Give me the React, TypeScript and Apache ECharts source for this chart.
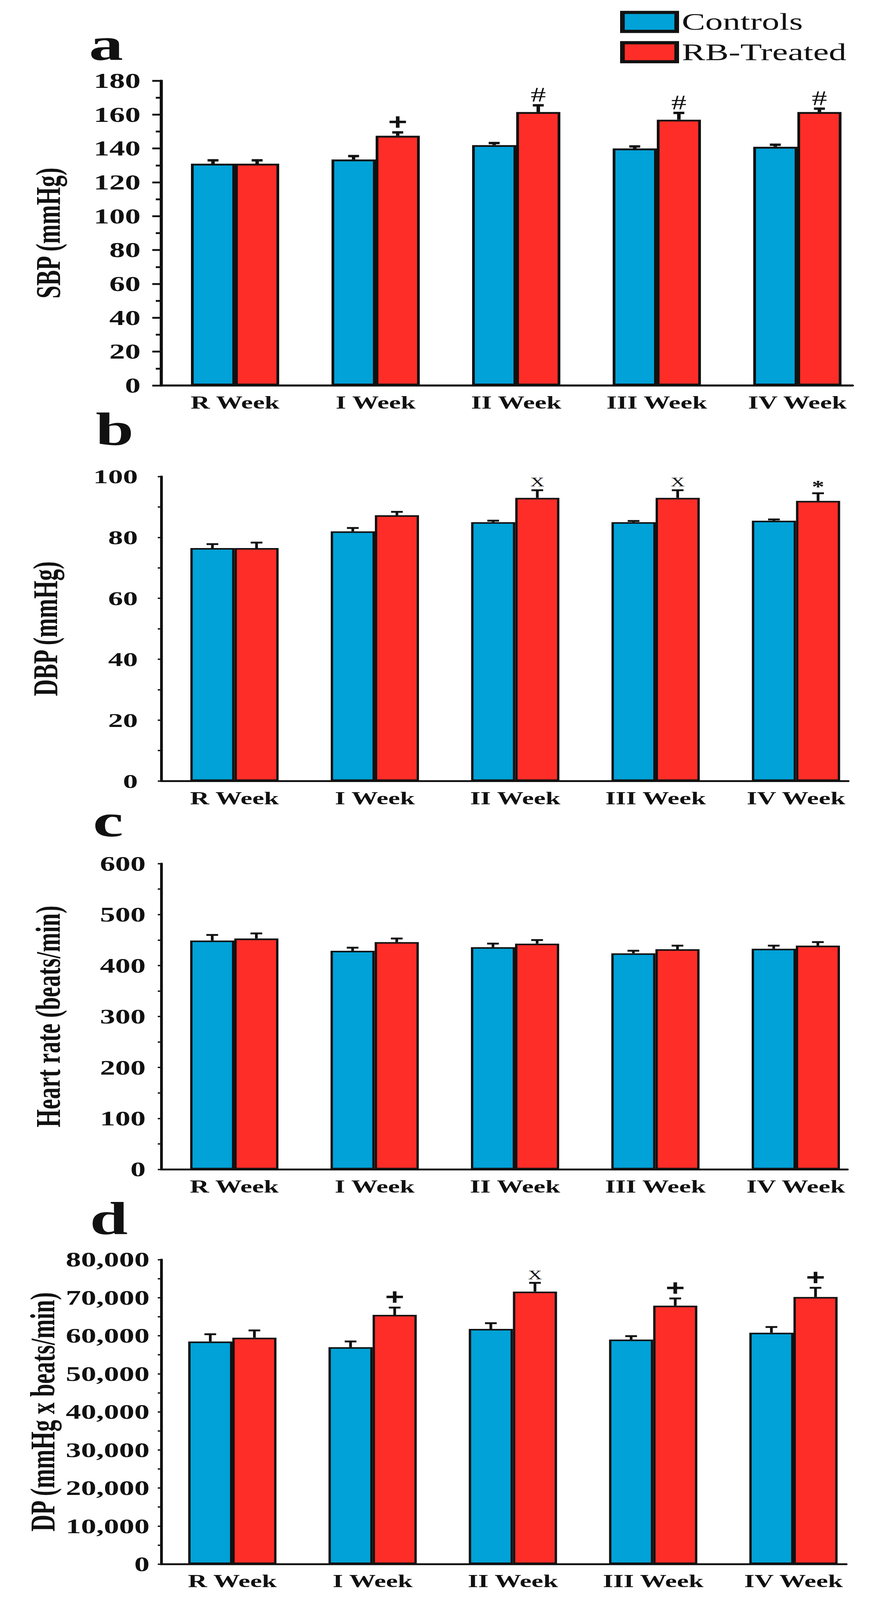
import React, { useEffect, useRef } from 'react';
import * as echarts from 'echarts';

// ---------- data ----------
const categories = ['R Week', 'I Week', 'II Week', 'III Week', 'IV Week'];
const legendNames = ['Controls', 'RB-Treated'];

const sbpControls = [131, 133.5, 142, 140, 141];
const sbpControlsErr = [2, 2, 1.2, 1.2, 1.2];
const sbpTreated = [131, 147.5, 161.5, 157, 161.5];
const sbpTreatedErr = [2, 2, 4, 4, 2];
const sbpMarks = ['', '+', '#', '#', '#'];

const dbpControls = [76.5, 82, 85, 85, 85.5];
const dbpControlsErr = [1.3, 1.1, 0.5, 0.4, 0.4];
const dbpTreated = [76.5, 87.3, 93, 93, 92];
const dbpTreatedErr = [1.8, 1.1, 2.5, 2.5, 2.5];
const dbpMarks = ['', '', 'X', 'X', '*'];

const hrControls = [449, 429, 436, 424, 433];
const hrControlsErr = [11, 6, 7, 5, 6];
const hrTreated = [453, 446, 443, 432, 439];
const hrTreatedErr = [10, 7, 7, 7, 7];
const hrMarks = ['', '', '', '', ''];

const dpControls = [58500, 57000, 61800, 59000, 60800];
const dpControlsErr = [1900, 1500, 1500, 900, 1500];
const dpTreated = [59500, 65500, 71600, 67900, 70200];
const dpTreatedErr = [1900, 1900, 2300, 1900, 2400];
const dpMarks = ['', '+', 'X', '+', '+'];

const yMaxes = [180, 100, 600, 80000];
const yIntervals = [20, 20, 100, 10000];
const yNames = ['SBP (mmHg)', 'DBP (mmHg)', 'Heart rate (beats/min)', 'DP (mmHg x beats/min)'];
const panelLetters = ['a', 'b', 'c', 'd'];

// ---------- styling / layout ----------
const INK = '#111111';
const BLUE = '#00A2D8';
const RED = '#FF2D28';
const FONT = '"Liberation Serif", "Times New Roman", serif';
const SANS = '"Liberation Sans", Arial, sans-serif';
const BAR_W = 113;
const FIG_W = 2228;
const FIG_H = 6064;

const layouts = [
  { top: 306, height: 1155, end: 2183, c0: 602, step: 360, axisW: 8, border: 7, tickLen: 23, minorLen: 14, tickW: 7, labelSize: 80, labelMargin: 53, nameGap: 246, letterY: 168, letterX: 228, capW: 28, capT: 9 },
  { top: 1806, height: 1154, end: 2172, c0: 600.5, step: 359.5, axisW: 7, border: 6, tickLen: 9, minorLen: 9, tickW: 5, labelSize: 76, labelMargin: 60, nameGap: 253, letterY: 1625, letterX: 245, capW: 30, capT: 7 },
  { top: 3273, height: 1159, end: 2170, c0: 600, step: 359.5, axisW: 7, border: 6, tickLen: 9, minorLen: 9, tickW: 5, labelSize: 78, labelMargin: 40, nameGap: 246, letterY: 3110, letterX: 238, capW: 30, capT: 7 },
  { top: 4774, height: 1154, end: 2167, c0: 595, step: 359.25, axisW: 7, border: 6, tickLen: 9, minorLen: 9, tickW: 5, labelSize: 78, labelMargin: 30, nameGap: 260, letterY: 4618, letterX: 230, capW: 30, capT: 7 },
];

const markStyles: Record<string, { size: number; weight: string; dy: number; family: string }> = {
  '+': { size: 84, weight: 'bold', dy: -40, family: SANS },
  '#': { size: 78, weight: 'normal', dy: -40, family: FONT },
  'X': { size: 50, weight: 'normal', dy: -31, family: FONT },
  '*': { size: 64, weight: 'bold', dy: -26, family: FONT },
};

const panels = [
  { ctrl: sbpControls, ctrlErr: sbpControlsErr, tr: sbpTreated, trErr: sbpTreatedErr, marks: sbpMarks },
  { ctrl: dbpControls, ctrlErr: dbpControlsErr, tr: dbpTreated, trErr: dbpTreatedErr, marks: dbpMarks },
  { ctrl: hrControls, ctrlErr: hrControlsErr, tr: hrTreated, trErr: hrTreatedErr, marks: hrMarks },
  { ctrl: dpControls, ctrlErr: dpControlsErr, tr: dpTreated, trErr: dpTreatedErr, marks: dpMarks },
];

function buildOption() {
  const grid: any[] = [];
  const xAxis: any[] = [];
  const yAxis: any[] = [];
  const series: any[] = [];
  const graphic: any[] = [];
  const left = 413;

  panels.forEach((p, k) => {
    const L = layouts[k];
    grid.push({ left, top: L.top, width: L.end - left, height: L.height });
    xAxis.push({
      gridIndex: k,
      type: 'value',
      min: (left - L.c0) / L.step,
      max: (L.end - L.c0) / L.step,
      axisLine: { show: true, onZero: false, lineStyle: { color: INK, width: L.axisW } },
      axisTick: { show: false },
      splitLine: { show: false },
      axisLabel: {
        customValues: categories.map((_, i) => i),
        formatter: (v: number) => categories[Math.round(v)] ?? '',
        fontSize: 68,
        fontWeight: 'bold',
        color: INK,
        margin: 31,
        lineHeight: 68,
      },
    });
    yAxis.push({
      gridIndex: k,
      type: 'value',
      min: 0,
      max: yMaxes[k],
      interval: yIntervals[k],
      name: yNames[k],
      nameLocation: 'middle',
      nameRotate: 90,
      nameGap: L.nameGap,
      nameTextStyle: { fontSize: 88, fontWeight: 'bold', color: INK },
      axisLine: { show: true, onZero: false, lineStyle: { color: INK, width: L.axisW } },
      axisTick: { show: true, length: L.tickLen, lineStyle: { color: INK, width: L.tickW } },
      minorTick: { show: true, splitNumber: 2, length: L.minorLen, lineStyle: { color: INK, width: L.tickW } },
      splitLine: { show: false },
      minorSplitLine: { show: false },
      axisLabel: {
        fontSize: L.labelSize,
        fontWeight: 'bold',
        color: INK,
        margin: L.labelMargin,
        formatter: (v: number) => (yMaxes[k] >= 10000 ? v.toLocaleString('en-US') : String(v)),
      },
    });

    series.push({
      type: 'bar',
      name: legendNames[0],
      xAxisIndex: k,
      yAxisIndex: k,
      data: p.ctrl.map((v, i) => [i, v]),
      barWidth: BAR_W,
      barGap: '0%',
      itemStyle: { color: BLUE, borderColor: INK, borderWidth: L.border },
    });
    series.push({
      type: 'bar',
      name: legendNames[1],
      xAxisIndex: k,
      yAxisIndex: k,
      data: p.tr.map((v, i) => [i, v]),
      barWidth: BAR_W,
      barGap: '0%',
      itemStyle: { color: RED, borderColor: INK, borderWidth: L.border },
    });

    const errData: number[][] = [];
    p.ctrl.forEach((v, i) => errData.push([i, v, p.ctrlErr[i], -1]));
    p.tr.forEach((v, i) => errData.push([i, v, p.trErr[i], 1]));
    series.push({
      type: 'custom',
      name: 'err' + k,
      xAxisIndex: k,
      yAxisIndex: k,
      encode: { x: 0, y: 1 },
      data: errData,
      z: 5,
      renderItem: (params: any, api: any) => {
        const x = api.value(0);
        const v = api.value(1);
        const e = api.value(2);
        const side = api.value(3);
        const p0 = api.coord([x, v]);
        const p1 = api.coord([x, v + e]);
        const cx = p0[0] + (side * BAR_W) / 2;
        return {
          type: 'group',
          children: [
            { type: 'line', shape: { x1: cx, y1: p0[1], x2: cx, y2: p1[1] }, style: { stroke: INK, lineWidth: L.capT } },
            { type: 'line', shape: { x1: cx - L.capW / 2, y1: p1[1], x2: cx + L.capW / 2, y2: p1[1] }, style: { stroke: INK, lineWidth: L.capT } },
          ],
        };
      },
    });

    series.push({
      type: 'custom',
      name: 'mark' + k,
      xAxisIndex: k,
      yAxisIndex: k,
      encode: { x: 0, y: 1 },
      data: p.tr.map((v, i) => [i, v + p.trErr[i]]),
      z: 6,
      renderItem: (params: any, api: any) => {
        const m = p.marks[params.dataIndex];
        if (!m) return { type: 'group', children: [] };
        const st = markStyles[m];
        const pt = api.coord([api.value(0), api.value(1)]);
        return {
          type: 'text',
          x: pt[0] + BAR_W / 2,
          y: pt[1] + st.dy,
          style: {
            text: m,
            fill: INK,
            fontSize: st.size,
            fontWeight: st.weight,
            fontFamily: st.family,
            align: 'center',
            verticalAlign: 'middle',
          },
        };
      },
    });

    graphic.push({
      type: 'text',
      x: L.letterX,
      y: L.letterY,
      style: {
        text: panelLetters[k],
        fill: INK,
        fontSize: 175,
        fontWeight: 'bold',
        fontFamily: FONT,
        align: 'left',
        verticalAlign: 'middle',
      },
    });
  });

  return {
    animation: false,
    backgroundColor: '#ffffff',
    textStyle: { fontFamily: FONT },
    legend: {
      data: legendNames,
      orient: 'vertical',
      left: 1583,
      top: 33,
      itemWidth: 139,
      itemHeight: 72,
      itemGap: 25,
      icon: 'rect',
      selectedMode: false,
      itemStyle: { borderColor: INK, borderWidth: 12 },
      textStyle: { fontSize: 90, color: INK, lineHeight: 90, fontFamily: FONT, padding: [0, 0, 0, 8] },
    },
    grid,
    xAxis,
    yAxis,
    series,
    graphic,
  };
}

export default function App() {
  const ref = useRef<HTMLDivElement>(null);
  // The browser viewport is capped (innerHeight 4096), so the 2228x6064 figure is
  // drawn at full size and squeezed vertically to fit the visible viewport.
  const vh = typeof window !== 'undefined' ? Math.min(window.innerHeight || FIG_H, FIG_H) : FIG_H;
  const sy = vh / FIG_H;
  useEffect(() => {
    if (!ref.current) return;
    const chart = echarts.init(ref.current, null, { renderer: 'svg' });
    chart.setOption(buildOption() as any);
    return () => chart.dispose();
  }, []);
  return (
    <div style={{ position: 'absolute', left: 0, top: 0, width: FIG_W, height: vh, overflow: 'hidden', background: '#fff' }}>
      <div
        ref={ref}
        style={{ width: FIG_W, height: FIG_H, transform: `scaleY(${sy})`, transformOrigin: '0 0' }}
      />
    </div>
  );
}
